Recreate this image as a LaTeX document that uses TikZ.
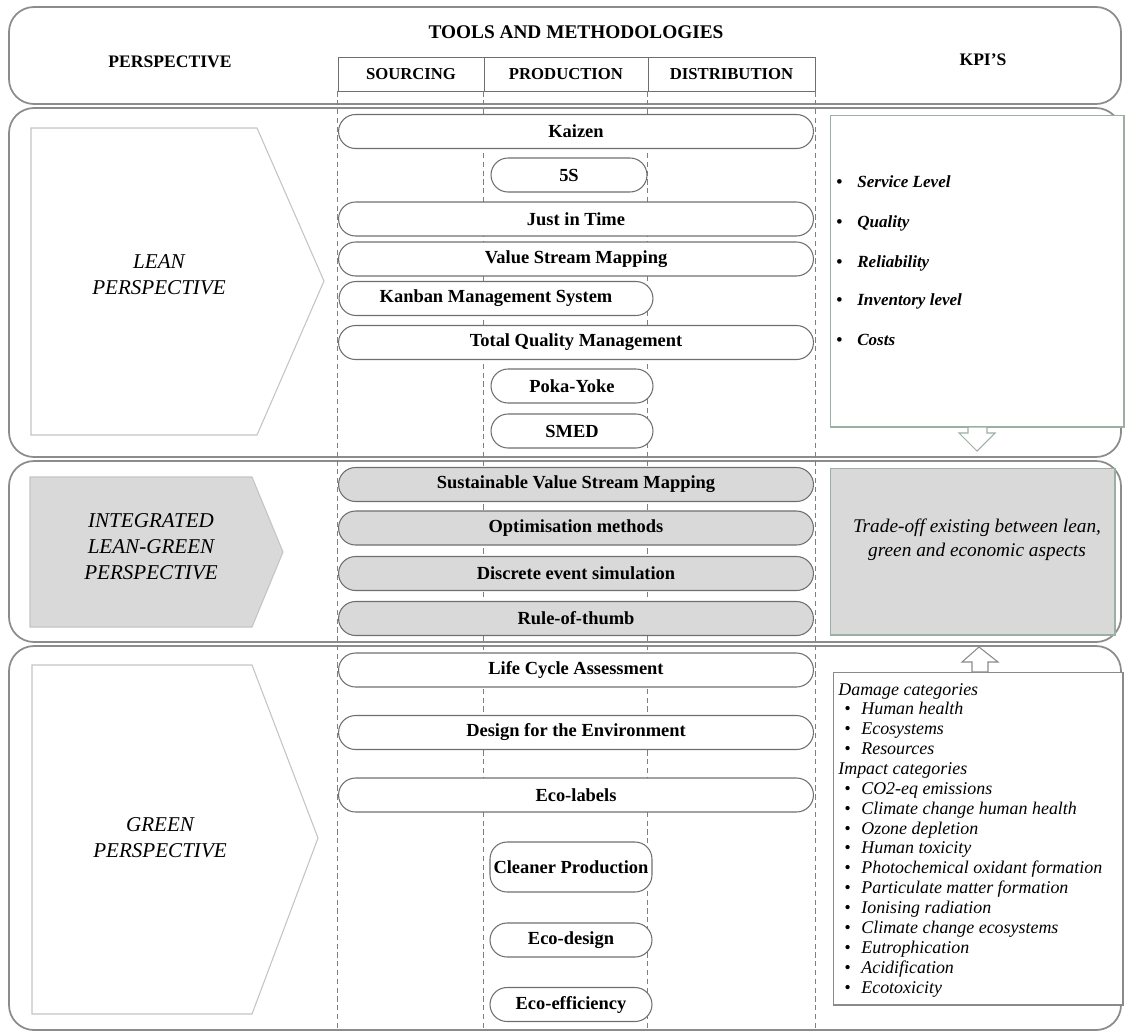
\documentclass[tikz,border=0pt]{standalone}
\usepackage{fontspec}
\setmainfont{Liberation Serif}

\definecolor{panelgray}{HTML}{8C8C8C}
\definecolor{arrowgray}{HTML}{C4C4C4}
\definecolor{intgray}{HTML}{D9D9D9}
\definecolor{pillgray}{HTML}{6F6F6F}
\definecolor{dashgray}{HTML}{7F7F7F}
\definecolor{kpigreen}{HTML}{9DAEA3}
\definecolor{kpigray}{HTML}{8A8A8A}

\newcommand{\pilltext}{\fontsize{10.5}{12}\selectfont\bfseries}
\newcommand{\perspfont}{\fontsize{12}{14.8}\selectfont\itshape}
\newcommand{\lbullet}{\makebox[0.42cm][l]{\textbullet}}
\newcommand{\gbullet}{\hspace*{0.12cm}\makebox[0.34cm][l]{\textbullet}}

\tikzset{
  panel/.style={draw=panelgray, line width=1pt, rounded corners=0.5cm},
  persparrow/.style={draw=arrowgray, line width=0.6pt, fill=white},
  intarrow/.style={draw=arrowgray, line width=0.6pt, fill=intgray},
  colline/.style={draw=dashgray, line width=0.5pt, dash pattern=on 3pt off 2pt},
  colhead/.style={draw=pillgray, line width=0.5pt, minimum height=0.68cm, inner sep=0pt,
    font=\fontsize{9.5}{11}\selectfont\bfseries},
  headtext/.style={inner sep=0pt, font=\fontsize{11}{13}\selectfont\bfseries},
  headsmall/.style={inner sep=0pt, font=\fontsize{10}{12}\selectfont\bfseries},
  perslabel/.style={align=center, inner sep=0pt, font=\perspfont},
  pill/.style={draw=pillgray, line width=0.6pt, fill=white, rounded corners=0.34cm,
    minimum height=0.68cm, inner sep=0pt, font=\pilltext},
  pillfull/.style={pill, minimum width=9.5cm},
  pillmid/.style={pill, minimum width=3.24cm},
  greypill/.style={fill=intgray},
  kpibox/.style={line width=0.6pt, fill=white, inner sep=0pt},
  blockarrow/.style={line width=0.6pt, fill=white},
  leanitem/.style={anchor=base west, inner sep=0pt,
    font=\fontsize{9.7}{11}\selectfont\bfseries\itshape},
  greenitem/.style={anchor=base west, inner sep=0pt,
    font=\fontsize{10.2}{11.5}\selectfont\itshape}
}

\begin{document}
\begin{tikzpicture}[x=0.02cm, y=-0.02cm]
  \useasboundingbox (0,0) rectangle (1125,1032);

  % four bands
  \draw[panel] (9,7) rectangle (1121,104);
  \draw[panel] (9,108) rectangle (1121,457);
  \draw[panel] (9,461) rectangle (1121,642);
  \draw[panel] (9,646) rectangle (1121,1030);

  % header
  \node[headtext] (tools) at (576,32) {TOOLS AND METHODOLOGIES};
  \node[headsmall] (persp) at (170,62) {PERSPECTIVE};
  \node[headsmall] (kpis) at (983,60) {KPI’S};
  \node[colhead, minimum width=2.92cm] (sourcing) at (411,74) {SOURCING};
  \node[colhead, minimum width=3.28cm] (production) at (566,74) {PRODUCTION};
  \node[colhead, minimum width=3.34cm] (distribution) at (731.5,74) {DISTRIBUTION};

  % column guides
  \draw[colline] (sourcing.south west) -- ++(0,939);
  \draw[colline] (production.south west) -- ++(0,939);
  \draw[colline] (distribution.south west) -- ++(0,939);
  \draw[colline] (distribution.south east) -- ++(0,939);

  % perspective arrows
  \filldraw[persparrow] (31,128) -- (257,128) -- (324,281) -- (257,435) -- (31,435) -- cycle;
  \filldraw[intarrow] (30,477) -- (252,477) -- (283,552) -- (252,627) -- (30,627) -- cycle;
  \filldraw[persparrow] (32,665) -- (252,665) -- (318,838) -- (252,1014) -- (32,1014) -- cycle;
  \node[perslabel] (lean) at (159,275) {LEAN\\PERSPECTIVE};
  \node[perslabel] (integrated) at (151,547) {INTEGRATED\\LEAN-GREEN\\PERSPECTIVE};
  \node[perslabel] (green) at (160,838) {GREEN\\PERSPECTIVE};

  % lean tools
  \node[pillfull] (kaizen) at (576,131.5) {Kaizen};
  \node[pill, minimum width=3.12cm] (fives) at (569,175) {5S};
  \node[pillfull] (jit) at (576,219) {Just in Time};
  \node[pillfull] (vsm) at (576,259) {Value Stream Mapping};
  \node[pill, minimum width=6.28cm] (kanban) at (496,298.5) {Kanban Management System};
  \node[pillfull] (tqm) at (576,342.5) {Total Quality Management};
  \node[pillmid] (poka) at (572,386) {Poka-Yoke};
  \node[pillmid] (smed) at (572,431) {SMED};

  % integrated tools
  \node[pillfull, greypill] (svsm) at (576,484.5) {Sustainable Value Stream Mapping};
  \node[pillfull, greypill] (optim) at (576,528) {Optimisation methods};
  \node[pillfull, greypill] (des) at (576,573.5) {Discrete event simulation};
  \node[pillfull, greypill] (thumb) at (576,618.5) {Rule-of-thumb};

  % green tools
  \node[pillfull] (lca) at (576,670) {Life Cycle Assessment};
  \node[pillfull] (dfe) at (576,732.5) {Design for the Environment};
  \node[pillfull] (ecolabels) at (576,795) {Eco-labels};
  \node[pillmid, minimum height=1cm] (cleaner) at (571,867) {Cleaner Production};
  \node[pillmid] (ecodesign) at (571,940) {Eco-design};
  \node[pillmid] (ecoeff) at (571,1004.5) {Eco-efficiency};

  % KPI boxes
  \node[kpibox, draw=kpigreen, minimum width=5.88cm, minimum height=6.24cm] (leankpi) at (977,271) {};
  \node[kpibox, draw=kpigreen, fill=intgray, minimum width=5.7cm, minimum height=3.34cm] (intkpi) at (972.5,551.5) {};
  \node[kpibox, draw=kpigray, minimum width=5.8cm, minimum height=6.66cm] (greenkpi) at (978,838.5) {};

  \filldraw[blockarrow, draw=kpigreen] (968,427) -- (968,433) -- (959,433) -- (977,451) -- (995,433) -- (987,433) -- (987,427) -- cycle;
  \filldraw[blockarrow, draw=kpigray] (972,672) -- (972,662) -- (962,662) -- (979,647) -- (998,662) -- (988,662) -- (988,672) -- cycle;

  \node[leanitem] (service) at (836,187) {\lbullet Service Level};
  \node[leanitem] (quality) at (836,227) {\lbullet Quality};
  \node[leanitem] (reliab) at (836,267) {\lbullet Reliability};
  \node[leanitem] (invent) at (836,305) {\lbullet Inventory level};
  \node[leanitem] (costs) at (836,345) {\lbullet Costs};

  \node[align=center, inner sep=0pt, font=\fontsize{11}{13.7}\selectfont\itshape] (tradeoff) at (977,540)
    {Trade-off existing between lean,\\green and economic aspects};

  \node[greenitem] (damage) at (838,695) {Damage categories};
  \foreach \txt [count=\i] in {Human health, Ecosystems, Resources}
    \node[greenitem] (dmg\i) at (838,{695+19.87*\i}) {\gbullet\txt};
  \node[greenitem] (impact) at (838,{695+19.87*4}) {Impact categories};
  \foreach \txt [count=\i from 5] in {CO2-eq emissions, Climate change human health, Ozone depletion,
      Human toxicity, Photochemical oxidant formation, Particulate matter formation,
      Ionising radiation, Climate change ecosystems, Eutrophication, Acidification, Ecotoxicity}
    \node[greenitem] (imp\i) at (838,{695+19.87*\i}) {\gbullet\txt};
\end{tikzpicture}
\end{document}
